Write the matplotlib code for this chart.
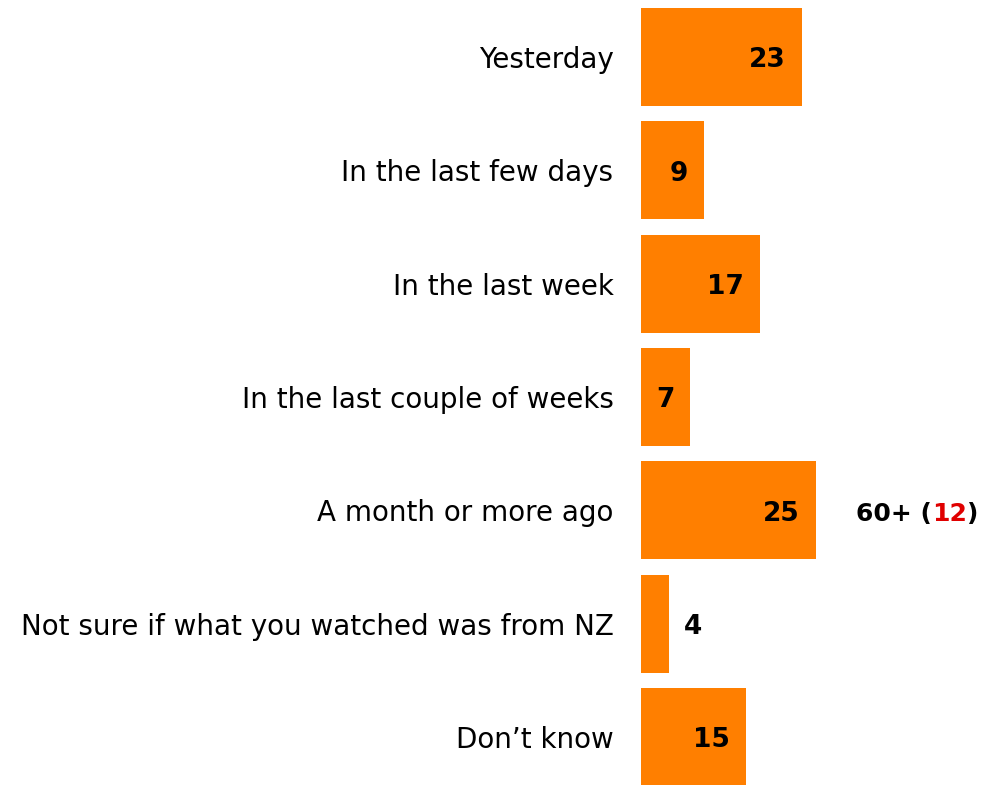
import matplotlib.pyplot as plt

categories = ['Yesterday', 'In the last few days', 'In the last week',
              'In the last couple of weeks', 'A month or more ago',
              'Not sure if what you watched was from NZ', "Don\u2019t know"]
values = [23, 9, 17, 7, 25, 4, 15]
note_group = '60+'
note_value = 12

orange = '#FF7F00'
plt.rcParams['font.family'] = ['DejaVu Sans']

fig = plt.figure(figsize=(9.82, 7.85), dpi=100)
ax = fig.add_axes([0.653, 0, 0.347, 1])

y = list(range(len(categories)))
ax.barh(y, values, height=0.865, color=orange)

for i, v in enumerate(values):
    if v < 5:
        ax.text(v + 2.1, i + 0.03, str(v), ha='left', va='center',
                fontsize=19, fontweight='bold', color='black')
    else:
        ax.text(v - 2.3, i + 0.03, str(v), ha='right', va='center',
                fontsize=19, fontweight='bold', color='black')

# annotation next to "A month or more ago"
t1 = ax.text(30.7, 4.03, note_group + ' (', ha='left', va='center',
             fontsize=18, fontweight='bold', color='black')
t2 = ax.annotate(str(note_value), xy=(1, 0), xycoords=t1, va='bottom',
                 fontsize=18, fontweight='bold', color='#E00000')
ax.annotate(')', xy=(1, 0), xycoords=t2, va='bottom',
            fontsize=18, fontweight='bold', color='black')

ax.set_yticks(y)
ax.set_yticklabels(categories, fontsize=20)
ax.tick_params(axis='y', length=0, pad=20)
ax.set_xticks([])
ax.set_xlim(0, 48.7)
ax.set_ylim(6.425, -0.503)
for s in ax.spines.values():
    s.set_visible(False)

fig.savefig('out.png', dpi=100)
